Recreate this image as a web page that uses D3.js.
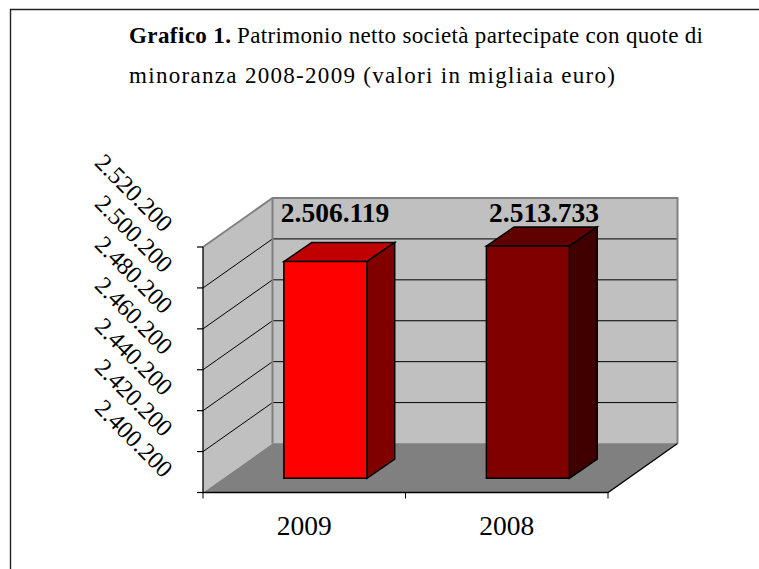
<!DOCTYPE html>
<html><head><meta charset="utf-8">
<script src="https://cdn.jsdelivr.net/npm/d3@7"></script>
<style>html,body{margin:0;padding:0;background:#fff}svg{display:block}text{font-family:"Liberation Serif",serif;fill:#000}</style>
</head><body><svg id="c" width="759" height="569"></svg>
<script>
const categories = ["2009","2008"];
const values = [2506119,2513733];
const valueLabels = ["2.506.119","2.513.733"];
const tickValues = [2400200,2420200,2440200,2460200,2480200,2500200,2520200];
const tickLabels = ["2.400.200","2.420.200","2.440.200","2.460.200","2.480.200","2.500.200","2.520.200"];
const frontColors = ["#ff0000","#800000"];
const topColors = ["#c00000","#600000"];
const sideColors = ["#800000","#400000"];

const svg = d3.select("#c");
const L=203,R=608,B=492.5,T=247, DX=69.5, DY=-49;
const x = d3.scaleBand().domain(categories).range([L,R]).paddingInner(0.59).paddingOuter(0.295);
const y = d3.scaleLinear().domain([2400200,2520200]).range([B,T]);
const labelX = d3.scalePoint().domain(categories).range([335,544]);
const line = d3.line();
const poly=(pts,fill,stroke,sw)=>svg.append("path").attr("d",line(pts)+"Z").attr("fill",fill).attr("stroke",stroke||"none").attr("stroke-width",sw||0).attr("stroke-linejoin","miter");
const seg=(a,b,stroke,sw)=>svg.append("path").attr("d",line([a,b])).attr("fill","none").attr("stroke",stroke).attr("stroke-width",sw);

// frame
svg.append("path").attr("d","M10.5,569V9.5H759").attr("fill","none").attr("stroke","#222").attr("stroke-width",1.4);

// walls, floor
poly([[L,B],[L,T],[L+DX,T+DY],[L+DX,B+DY]],"#c0c0c0");
poly([[L+DX,B+DY],[L+DX,T+DY],[R+DX,T+DY],[R+DX,B+DY]],"#c0c0c0");
poly([[L,B],[L+DX,B+DY],[R+DX,B+DY],[R,B]],"#808080");

// grid
tickValues.slice(1,-1).forEach(v=>{
  svg.append("path").attr("d",line([[L,y(v)],[L+DX,y(v)+DY],[R+DX,y(v)+DY]])).attr("fill","none").attr("stroke","#000").attr("stroke-width",1);
});
// wall outlines
svg.append("path").attr("d",line([[L,T],[L+DX,T+DY],[R+DX,T+DY],[R+DX,B+DY]])).attr("fill","none").attr("stroke","#808080").attr("stroke-width",2);
seg([L+DX,T+DY],[L+DX,B+DY],"#808080",2);
seg([L+DX,B+DY],[R+DX,B+DY],"#909090",1);

// axes
svg.append("path").attr("d",line([[L,T],[L,B],[R,B],[R+DX,B+DY]])).attr("fill","none").attr("stroke","#000").attr("stroke-width",1.3);
tickValues.forEach(v=>seg([L-6,y(v)],[L,y(v)],"#000",1.2));
[L,(L+R)/2,R].forEach(px=>seg([px,B],[px,B+6],"#000",1));

// bars
const f0=0.29, f1=0.69;
categories.forEach((c,i)=>{
  const bx=x(c)+DX*f0+1, bw=x.bandwidth();
  const by0=B+DY*f0, h=y(2400200)-y(values[i]), by1=by0-h;
  const dx=DX*(f1-f0), dy=DY*(f1-f0)+0.5;
  poly([[bx,by1],[bx+dx,by1+dy],[bx+bw+dx,by1+dy],[bx+bw,by1]],topColors[i],"#000",1.5);
  poly([[bx+bw,by1],[bx+bw+dx,by1+dy],[bx+bw+dx,by0+dy],[bx+bw,by0]],sideColors[i],"#000",1.5);
  poly([[bx,by1],[bx+bw,by1],[bx+bw,by0],[bx,by0]],frontColors[i],"#000",1.5);
  svg.append("text").attr("x",labelX(c)).attr("y",222).attr("text-anchor","middle").attr("font-size",27.5).attr("font-weight","bold").text(valueLabels[i]);
  svg.append("text").attr("x",x(c)+bw/2).attr("y",535).attr("text-anchor","middle").attr("font-size",27.5).text(c);
});

// y tick labels
tickValues.forEach((v,i)=>{
  svg.append("text").attr("transform",`translate(100.5,${y(v)-90}) rotate(45)`).attr("font-size",24.5).attr("x",0).attr("y",10).text(tickLabels[i]);
});

// title
const t1=svg.append("text").attr("x",129).attr("y",43).attr("font-size",23);
t1.append("tspan").attr("font-weight","bold").attr("textLength",102).text("Grafico 1.");
t1.append("tspan").attr("x",237).attr("textLength",466).text("Patrimonio netto società partecipate con quote di");
svg.append("text").attr("x",129).attr("y",83).attr("font-size",23).attr("textLength",486).text("minoranza 2008-2009 (valori in migliaia euro)");
</script></body></html>
